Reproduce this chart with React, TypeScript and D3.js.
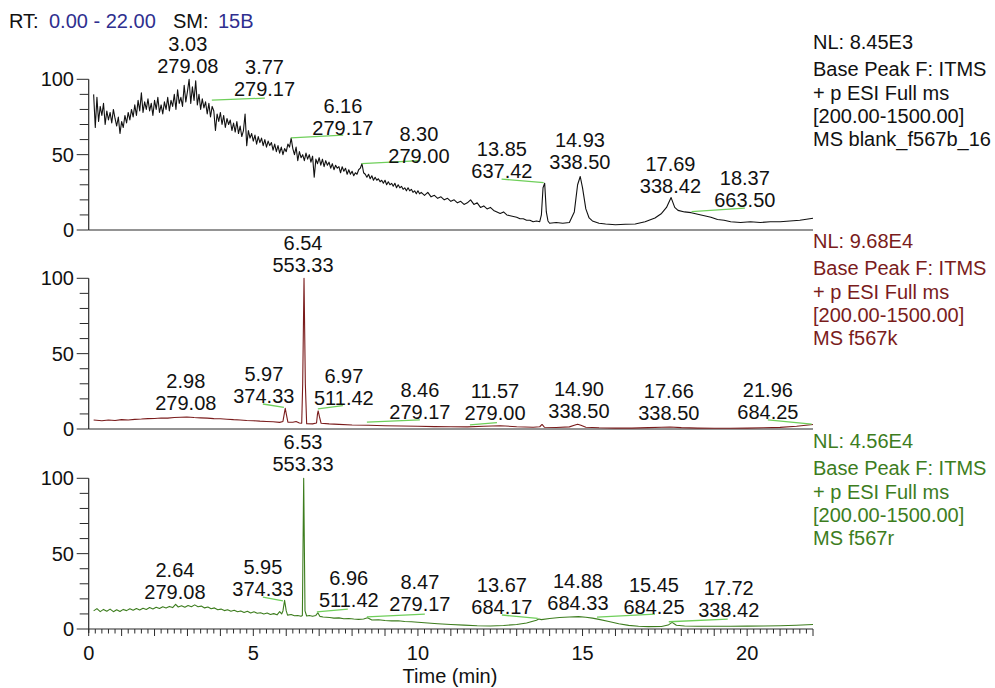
import React from 'react';
import * as d3 from 'd3';

// retention time window (min)
const timeDomain: [number, number] = [0, 22];
const timeTickLabels = [0, 5, 10, 15, 20];
const intensityTicks = [0, 50, 100];

// blank_f567b_16, base peak, relative abundance [time, %]
const blankTrace: [number, number][] = [
  [0.15, 90], [0.2, 68], [0.25, 88], [0.3, 72], [0.35, 82], [0.4, 76], [0.45, 84], [0.5, 70], [0.55, 79], [0.6, 73],
  [0.65, 78], [0.7, 71], [0.75, 80], [0.8, 74], [0.85, 69], [0.9, 75], [0.95, 64], [1.0, 72], [1.05, 68], [1.1, 76],
  [1.15, 71], [1.2, 78], [1.25, 73], [1.3, 80], [1.35, 75], [1.4, 83], [1.45, 76], [1.5, 86], [1.55, 79], [1.6, 91],
  [1.65, 78], [1.7, 85], [1.75, 80], [1.8, 87], [1.85, 79], [1.9, 84], [1.95, 76], [2.0, 86], [2.05, 80], [2.1, 88],
  [2.15, 78], [2.2, 83], [2.25, 77], [2.3, 85], [2.35, 80], [2.4, 88], [2.45, 79], [2.5, 86], [2.55, 82], [2.6, 90],
  [2.65, 80], [2.7, 93], [2.75, 84], [2.8, 88], [2.85, 82], [2.9, 96], [2.95, 85], [3.0, 92], [3.05, 100], [3.1, 84],
  [3.15, 95], [3.2, 86], [3.25, 99], [3.3, 83], [3.35, 90], [3.4, 80], [3.45, 87], [3.5, 81], [3.55, 85], [3.6, 77],
  [3.65, 84], [3.7, 75], [3.75, 82], [3.8, 79], [3.85, 66], [3.9, 77], [3.95, 72], [4.0, 78], [4.05, 70], [4.1, 76],
  [4.15, 68], [4.2, 74], [4.25, 70], [4.3, 73], [4.35, 66], [4.4, 71], [4.45, 65], [4.5, 72], [4.55, 64], [4.6, 69],
  [4.65, 62], [4.7, 66], [4.75, 77], [4.8, 56], [4.85, 66], [4.9, 61], [4.95, 64], [5.0, 59], [5.05, 63], [5.1, 57],
  [5.15, 62], [5.2, 58], [5.25, 61], [5.3, 56], [5.35, 60], [5.4, 55], [5.45, 59], [5.5, 56], [5.55, 58], [5.6, 53],
  [5.65, 57], [5.7, 52], [5.75, 56], [5.8, 51], [5.85, 55], [5.9, 50], [5.95, 54], [6.0, 52], [6.05, 57], [6.1, 55],
  [6.15, 61], [6.2, 54], [6.25, 50], [6.3, 55], [6.35, 46], [6.4, 52], [6.45, 48], [6.5, 50], [6.55, 46], [6.6, 51],
  [6.65, 47], [6.7, 50], [6.75, 45], [6.8, 49], [6.85, 35], [6.9, 47], [6.95, 44], [7.0, 48], [7.05, 43], [7.1, 47],
  [7.15, 42], [7.2, 46], [7.25, 43], [7.3, 45], [7.35, 41], [7.4, 44], [7.45, 40], [7.5, 43], [7.55, 41], [7.6, 42],
  [7.65, 38], [7.7, 42], [7.75, 39], [7.8, 41], [7.85, 37], [7.9, 40], [7.95, 37], [8.0, 39], [8.05, 36], [8.1, 38],
  [8.15, 37], [8.2, 40], [8.25, 41], [8.3, 44], [8.35, 38], [8.4, 37], [8.45, 35], [8.5, 37], [8.55, 34], [8.6, 36],
  [8.65, 33], [8.7, 35], [8.75, 33], [8.8, 34], [8.85, 32], [8.9, 33], [8.95, 31], [9.0, 33], [9.05, 30], [9.1, 32],
  [9.15, 30], [9.2, 31], [9.25, 29], [9.3, 31], [9.35, 28], [9.4, 30], [9.45, 28], [9.5, 29], [9.55, 27], [9.6, 28],
  [9.65, 26], [9.7, 28], [9.75, 26], [9.8, 27], [9.85, 25], [9.9, 26], [9.95, 24], [10.0, 26], [10.05, 24], [10.1, 25],
  [10.2, 23], [10.3, 25], [10.4, 22], [10.5, 23], [10.6, 21], [10.7, 22], [10.8, 20], [10.9, 21], [11.0, 19], [11.1, 20],
  [11.2, 18], [11.3, 19], [11.4, 17], [11.5, 18], [11.6, 20], [11.7, 17], [11.8, 18], [11.9, 15], [12.0, 16], [12.1, 14],
  [12.2, 15], [12.3, 13], [12.4, 12], [12.5, 11], [12.6, 12], [12.7, 10], [12.8, 9.5], [12.9, 9], [13.0, 8.5], [13.1, 7.5],
  [13.2, 7.5], [13.3, 6.5], [13.4, 6.5], [13.5, 5.5], [13.6, 6], [13.7, 5.5], [13.75, 10], [13.8, 28], [13.85, 31], [13.9, 12],
  [13.95, 6], [14.0, 4.5], [14.2, 5], [14.4, 4.5], [14.6, 5], [14.75, 12], [14.85, 30], [14.93, 35.5], [15.0, 28], [15.1, 14],
  [15.2, 8], [15.3, 6], [15.5, 4.5], [15.7, 4], [16.0, 3.5], [16.3, 3.8], [16.6, 4], [16.9, 5.5], [17.2, 8], [17.4, 11],
  [17.55, 15], [17.69, 21.5], [17.8, 15], [17.9, 13], [18.1, 12], [18.3, 11.5], [18.5, 10.5], [18.7, 9.5], [18.9, 8.5], [19.1, 7],
  [19.3, 6.5], [19.5, 5.5], [19.8, 5], [20.1, 5.5], [20.4, 5], [20.7, 5.5], [21.0, 5.5], [21.3, 6], [21.6, 6.5], [21.9, 7.5],
  [22.0, 7.8],
];

// f567k
const kTrace: [number, number][] = [
  [0.15, 6], [0.4, 5.5], [0.6, 6], [0.8, 5.6], [1.0, 6.2], [1.2, 6], [1.4, 6.4], [1.6, 6.6], [1.8, 6.9], [2.0, 7],
  [2.2, 7.3], [2.4, 7.2], [2.6, 7.6], [2.8, 7.8], [2.98, 8], [3.2, 7.6], [3.4, 7.4], [3.6, 7.2], [3.8, 6.9], [4.0, 6.8],
  [4.2, 6.5], [4.4, 6.2], [4.6, 6], [4.8, 5.6], [5.0, 5.5], [5.2, 5.2], [5.4, 5], [5.6, 4.8], [5.8, 4.4], [5.9, 5],
  [5.94, 10], [5.97, 13.7], [6.01, 9], [6.05, 4.5], [6.2, 4.5], [6.3, 5], [6.4, 4], [6.47, 3.8], [6.5, 30], [6.54, 100],
  [6.58, 30], [6.62, 3.5], [6.8, 3.4], [6.92, 4], [6.95, 10], [6.97, 12], [7.01, 8], [7.06, 3.8], [7.3, 3.4], [7.6, 3.1],
  [8.0, 2.7], [8.5, 2.5], [9.0, 2.2], [9.5, 2], [10.0, 1.8], [10.5, 1.6], [11.0, 1.5], [11.5, 1.4], [12.0, 1.8], [12.5, 2.2],
  [13.0, 1.5], [13.5, 1.2], [13.7, 1.5], [13.77, 3], [13.84, 1.2], [14.2, 1], [14.6, 1.4], [14.75, 2.5], [14.85, 3.2], [14.95, 2.5],
  [15.1, 1.2], [15.5, 0.8], [16.0, 0.6], [16.5, 0.6], [17.0, 0.9], [17.4, 1.2], [17.66, 1.3], [18.0, 0.9], [18.5, 0.6], [19.0, 0.5],
  [19.5, 0.5], [20.0, 0.6], [20.5, 0.8], [21.0, 1.1], [21.5, 1.8], [22.0, 3],
];

// f567r
const rTrace: [number, number][] = [
  [0.15, 12], [0.25, 13.5], [0.35, 11.5], [0.45, 13], [0.55, 11.8], [0.65, 13.2], [0.75, 11.5], [0.85, 12.8], [0.95, 11.6], [1.05, 13],
  [1.15, 12.2], [1.25, 13.4], [1.35, 12.4], [1.45, 13.6], [1.55, 12.6], [1.65, 13.8], [1.75, 13], [1.85, 14.2], [1.95, 13.3], [2.05, 14.4],
  [2.15, 13.6], [2.25, 14.8], [2.35, 14], [2.45, 15], [2.55, 14.2], [2.64, 16.4], [2.72, 14.6], [2.82, 15.4], [2.92, 14.4], [3.02, 15.6],
  [3.12, 14.8], [3.22, 16], [3.32, 14.8], [3.42, 15.2], [3.52, 14], [3.62, 14.6], [3.72, 13.4], [3.82, 14], [3.92, 12.8], [4.02, 13.2],
  [4.12, 12.2], [4.22, 12.8], [4.32, 11.8], [4.42, 12.4], [4.52, 11.4], [4.62, 12], [4.72, 11], [4.82, 11.8], [4.92, 10.6], [5.02, 11.4],
  [5.12, 10.4], [5.22, 10.8], [5.32, 10], [5.42, 10.6], [5.52, 9.6], [5.62, 10.2], [5.72, 9.4], [5.8, 11.5], [5.86, 10], [5.9, 12],
  [5.95, 19], [6.0, 12], [6.04, 9.2], [6.15, 9.6], [6.25, 8.8], [6.35, 9], [6.45, 8.5], [6.49, 9], [6.53, 100], [6.57, 12],
  [6.62, 8.6], [6.7, 9], [6.8, 8.4], [6.9, 9], [6.96, 10.8], [7.02, 8.4], [7.12, 8], [7.22, 7.8], [7.32, 7.6], [7.45, 7.2],
  [7.6, 7.4], [7.75, 6.8], [7.9, 7], [8.05, 6.6], [8.2, 6.4], [8.35, 6.6], [8.47, 7.4], [8.6, 6], [8.8, 6.1], [9.0, 5.6],
  [9.2, 5.4], [9.4, 5.5], [9.6, 5], [9.8, 4.8], [10.0, 4.5], [10.3, 4], [10.6, 3.5], [11.0, 3], [11.4, 2.6], [11.8, 2.2],
  [12.2, 2], [12.6, 2.3], [13.0, 3], [13.3, 4], [13.6, 5.8], [13.67, 6.6], [13.75, 6.2], [14.0, 7], [14.3, 7.6], [14.6, 8],
  [14.88, 8.2], [15.1, 7.8], [15.3, 7.2], [15.5, 6.4], [15.8, 5], [16.1, 3.5], [16.4, 2.4], [16.7, 1.8], [17.0, 1.6], [17.4, 1.7],
  [17.6, 2.6], [17.72, 4.4], [17.85, 2.5], [18.1, 2], [18.5, 1.8], [19.0, 1.8], [19.5, 1.8], [20.0, 1.9], [20.5, 2], [21.0, 2.2],
  [21.5, 2.5], [22.0, 3],
];

// peak labels: rt, m/z, label anchor [time, %], optional leader line
type Peak = { rt: string; mz: string; at: [number, number]; lead?: [number, number][] };

const blankPeaks: Peak[] = [
  { rt: '3.03', mz: '279.08', at: [3.01, 108.7] },
  { rt: '3.77', mz: '279.17', at: [5.34, 93.3], lead: [[3.74, 86.2], [5.35, 87.5]] },
  { rt: '6.16', mz: '279.17', at: [7.72, 68], lead: [[6.14, 61.1], [7.73, 62.9]] },
  { rt: '8.30', mz: '279.00', at: [10.03, 49.3], lead: [[8.29, 44], [10.06, 46]] },
  { rt: '13.85', mz: '637.42', at: [12.55, 39.3], lead: [[12.54, 33.8], [13.82, 31.5]] },
  { rt: '14.93', mz: '338.50', at: [14.92, 45.3] },
  { rt: '17.69', mz: '338.42', at: [17.67, 29.3] },
  { rt: '18.37', mz: '663.50', at: [19.93, 20], lead: [[18.31, 12.2], [19.93, 14.5]] },
];

const kPeaks: Peak[] = [
  { rt: '6.54', mz: '553.33', at: [6.51, 108.8] },
  { rt: '2.98', mz: '279.08', at: [2.95, 17.3] },
  { rt: '5.97', mz: '374.33', at: [5.32, 21.9], lead: [[5.29, 16.6], [5.93, 14.4]] },
  { rt: '6.97', mz: '511.42', at: [7.75, 20.6], lead: [[6.96, 13.3], [7.72, 15.5]] },
  { rt: '8.46', mz: '279.17', at: [10.06, 11.3], lead: [[8.45, 4.6], [10.06, 6]] },
  { rt: '11.57', mz: '279.00', at: [12.34, 10.6], lead: [[11.58, 2.7], [12.4, 4.2]] },
  { rt: '14.90', mz: '338.50', at: [14.89, 11.9] },
  { rt: '17.66', mz: '338.50', at: [17.62, 10.6] },
  { rt: '21.96', mz: '684.25', at: [20.63, 11.3], lead: [[20.63, 6], [21.96, 3.3]] },
];

const rPeaks: Peak[] = [
  { rt: '6.53', mz: '553.33', at: [6.51, 109.7] },
  { rt: '2.64', mz: '279.08', at: [2.62, 24.5] },
  { rt: '5.95', mz: '374.33', at: [5.29, 26.4], lead: [[5.29, 21.1], [5.9, 18.7]] },
  { rt: '6.96', mz: '511.42', at: [7.9, 19.2], lead: [[6.93, 11.4], [7.87, 13.2]] },
  { rt: '8.47', mz: '279.17', at: [10.06, 16.5], lead: [[8.45, 8.1], [10.21, 9.9]] },
  { rt: '13.67', mz: '684.17', at: [12.55, 14.5], lead: [[12.55, 9.3], [13.64, 7.1]] },
  { rt: '14.88', mz: '684.33', at: [14.86, 17.2] },
  { rt: '15.45', mz: '684.25', at: [17.17, 14.5], lead: [[15.44, 7.9], [17.2, 9.9]] },
  { rt: '17.72', mz: '338.42', at: [19.44, 12.6], lead: [[17.62, 4.8], [19.41, 6.6]] },
];

const blankInfo = ['NL: 8.45E3', 'Base Peak F: ITMS', '+ p ESI Full ms', '[200.00-1500.00]', 'MS blank_f567b_16'];
const kInfo = ['NL: 9.68E4', 'Base Peak F: ITMS', '+ p ESI Full ms', '[200.00-1500.00]', 'MS f567k'];
const rInfo = ['NL: 4.56E4', 'Base Peak F: ITMS', '+ p ESI Full ms', '[200.00-1500.00]', 'MS f567r'];

const W = 995;
const H = 688;
const FONT = '"Liberation Sans", Arial, sans-serif';
const AXIS = '#2b2b2b';
const LEAD = '#6fcf5a';
const INFO_DY = [0, 27, 51, 74, 97];

const x = d3.scaleLinear().domain(timeDomain).range([88.7, 813]);

function Panel({ trace, peaks, info, bottom, color, infoColor, showTime }: any) {
  const y = d3.scaleLinear().domain([0, 100]).range([bottom, bottom - 150.7]);
  const line = d3
    .line<[number, number]>()
    .x((d) => x(d[0]))
    .y((d) => y(d[1]));
  const minorY = y.ticks(10);
  const minorX = d3.range(0, 22.001, 0.2).map((v) => +v.toFixed(1));
  const nlBase = y(100) - 30;

  return (
    <g>
      {/* y axis */}
      <line x1={x(0)} x2={x(0)} y1={y(100)} y2={showTime ? bottom + 4 : bottom} stroke={AXIS} strokeWidth={1.2} />
      <line x1={x(0)} x2={x.range()[1]} y1={bottom} y2={bottom} stroke={AXIS} strokeWidth={1.2} />
      {minorY.map((t) => {
        const major = intensityTicks.includes(t);
        return (
          <line key={t} x1={x(0) - (major ? 12 : 9)} x2={x(0)} y1={y(t)} y2={y(t)} stroke={AXIS} strokeWidth={1} />
        );
      })}
      {intensityTicks.map((t) => (
        <text key={t} x={74} y={y(t) + 7} textAnchor="end" fontSize={20} fontFamily={FONT} fill="#111">
          {t}
        </text>
      ))}

      {showTime && (
        <g>
          {minorX.map((t) => {
            const whole = Math.abs(t - Math.round(t)) < 1e-6;
            return (
              <line key={t} x1={x(t)} x2={x(t)} y1={bottom} y2={bottom + (whole ? 7 : 4.5)} stroke={AXIS} strokeWidth={1} />
            );
          })}
          {timeTickLabels.map((t) => (
            <text key={t} x={x(t)} y={bottom + 31} textAnchor="middle" fontSize={20} fontFamily={FONT} fill="#111">
              {t}
            </text>
          ))}
          <text x={450} y={bottom + 54} textAnchor="middle" fontSize={20} fontFamily={FONT} fill="#111">
            Time (min)
          </text>
        </g>
      )}

      <path d={line(trace) || ''} fill="none" stroke={color} strokeWidth={1.1} strokeLinejoin="round" />

      {peaks.map((p: Peak) => (
        <g key={p.rt}>
          {p.lead && <path d={line(p.lead) || ''} fill="none" stroke={LEAD} strokeWidth={1.3} />}
          <text x={x(p.at[0])} y={y(p.at[1]) + 7} textAnchor="middle" fontSize={20} fontFamily={FONT} fill="#111">
            {p.mz}
          </text>
          <text x={x(p.at[0])} y={y(p.at[1]) - 15} textAnchor="middle" fontSize={20} fontFamily={FONT} fill="#111">
            {p.rt}
          </text>
        </g>
      ))}

      {info.map((s: string, i: number) => (
        <text key={i} x={813} y={nlBase + INFO_DY[i]} fontSize={20} fontFamily={FONT} fill={infoColor}>
          {s}
        </text>
      ))}
    </g>
  );
}

export default function App() {
  return (
    <svg width={W} height={H} style={{ position: 'absolute', left: 0, top: 0, background: '#fff' }}>
      <rect width={W} height={H} fill="#fff" />
      <text y={28} fontSize={20} fontFamily={FONT} fill="#111">
        <tspan x={9}>RT:</tspan>
        <tspan x={49} fill="#2f2f8f">0.00 - 22.00</tspan>
        <tspan x={173}>SM:</tspan>
        <tspan x={218} fill="#2f2f8f">15B</tspan>
      </text>
      <Panel trace={blankTrace} peaks={blankPeaks} info={blankInfo} bottom={230} color="#111" infoColor="#111" />
      <Panel trace={kTrace} peaks={kPeaks} info={kInfo} bottom={429} color="#7a1c1c" infoColor="#7a1c1c" />
      <Panel trace={rTrace} peaks={rPeaks} info={rInfo} bottom={629} color="#3d7d1e" infoColor="#3d7d1e" showTime />
    </svg>
  );
}
